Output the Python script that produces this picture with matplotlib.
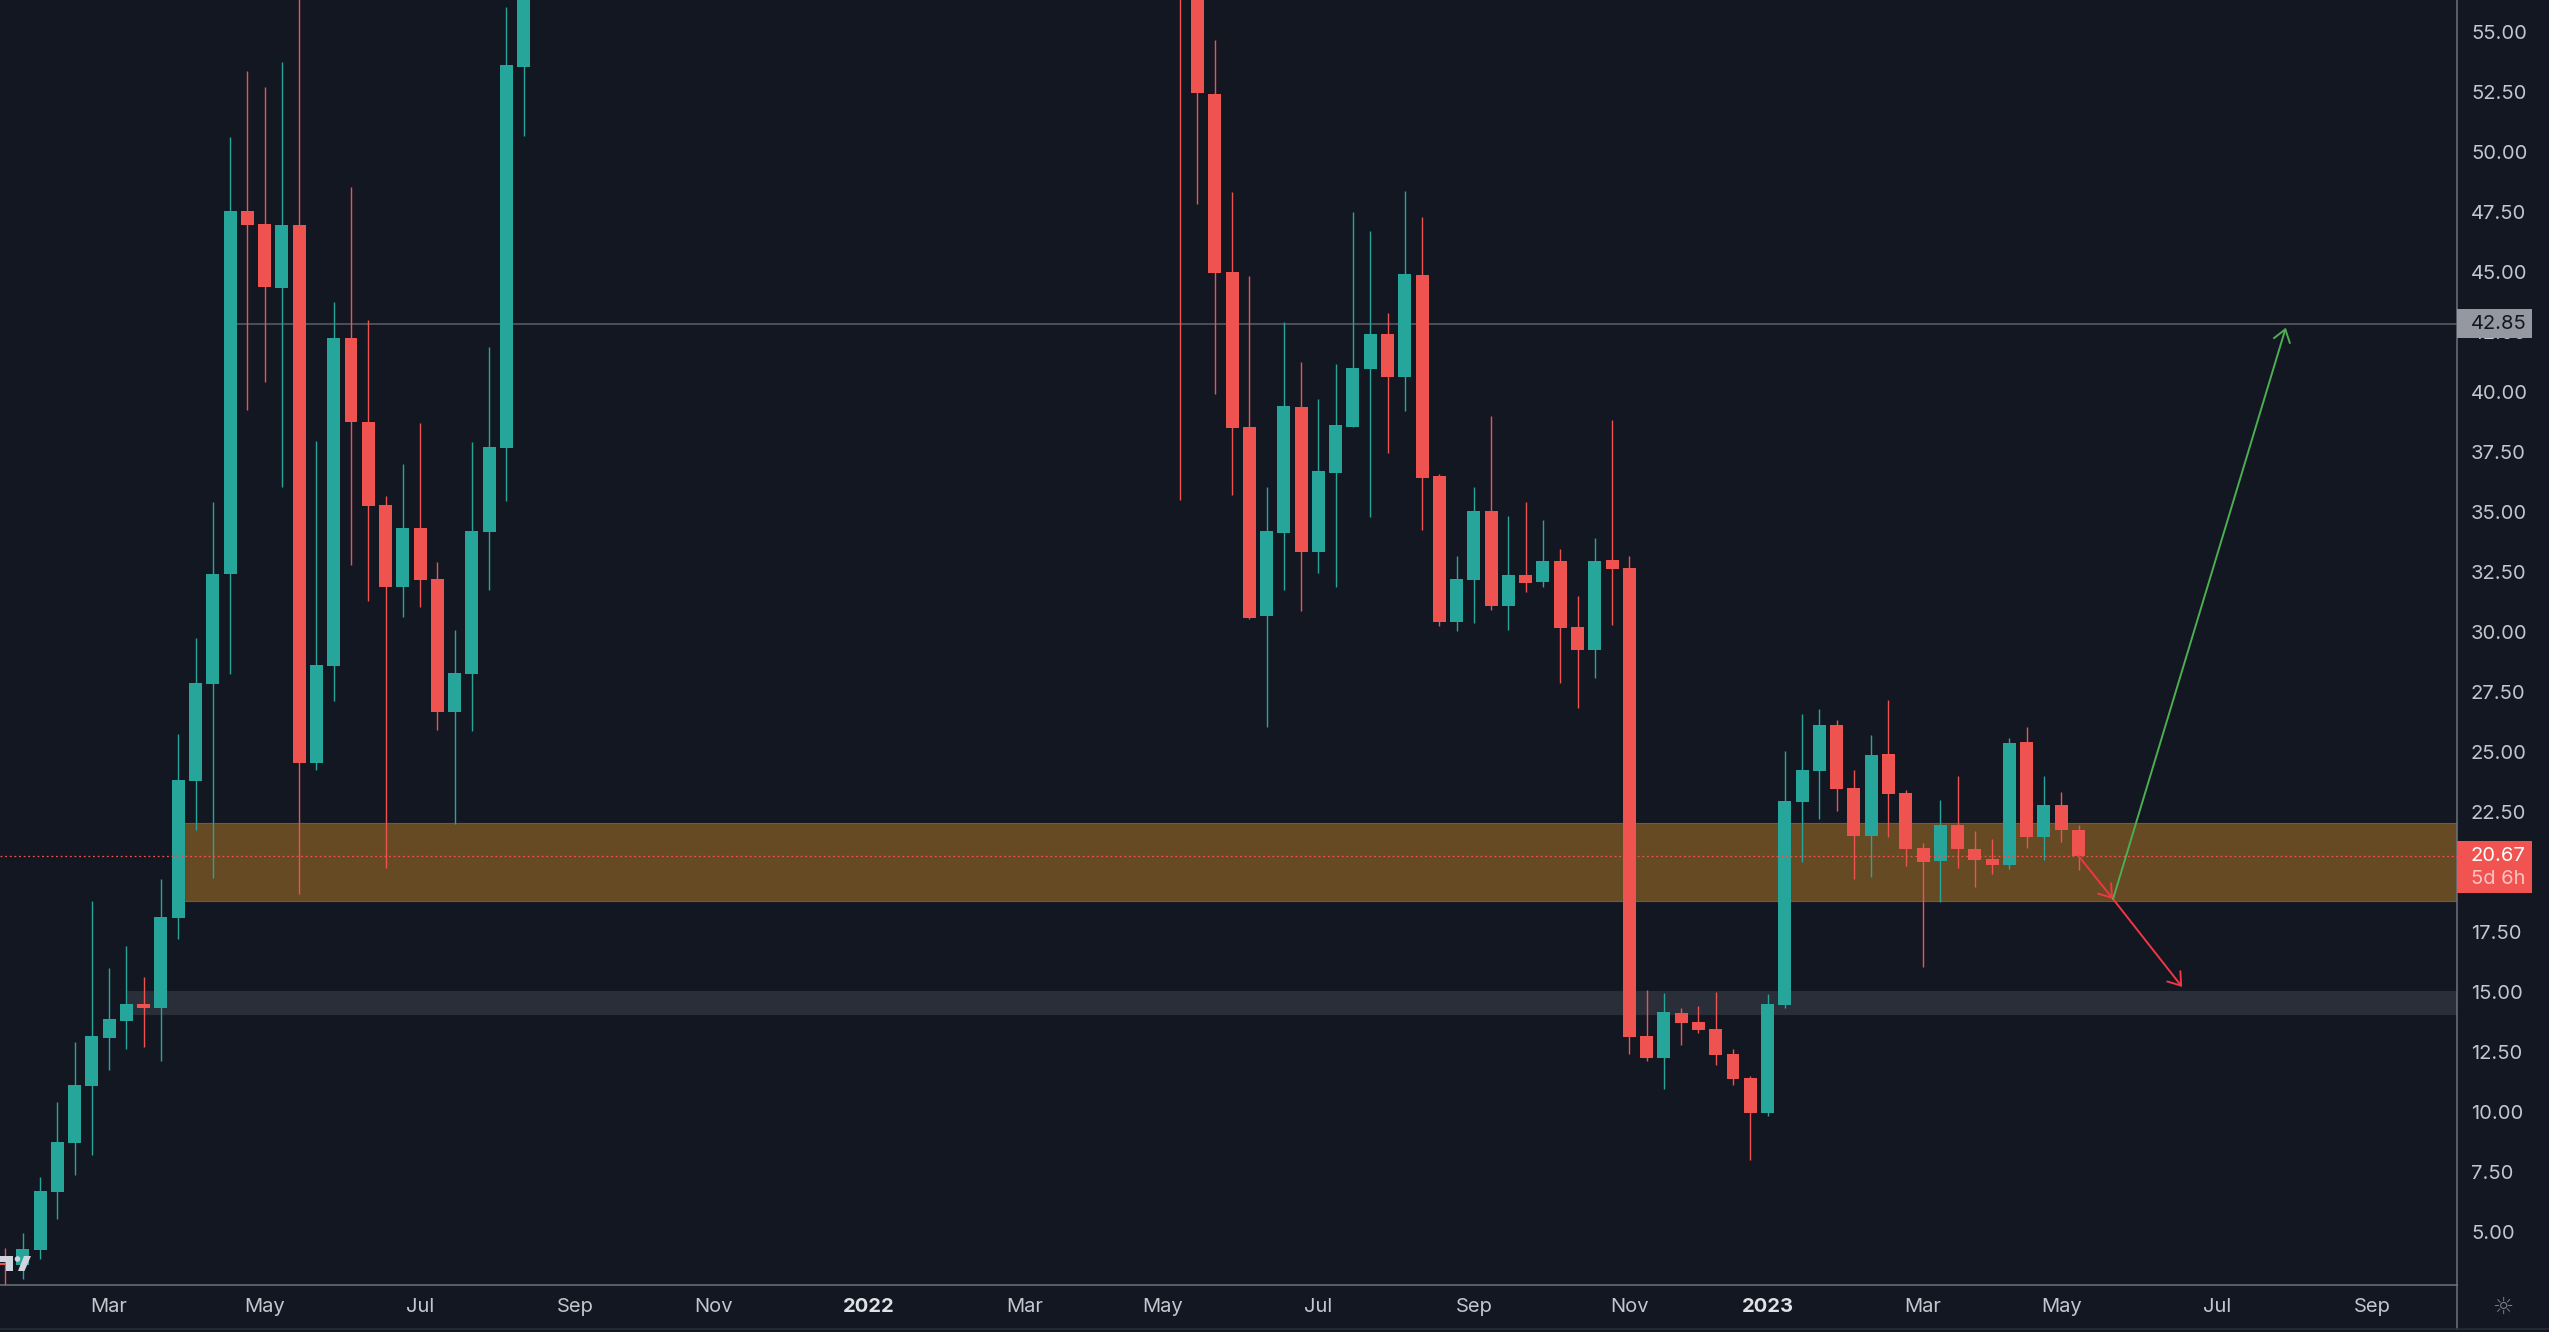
import matplotlib
matplotlib.use("Agg")
import matplotlib.pyplot as plt
from matplotlib.lines import Line2D
from matplotlib.patches import Circle, Polygon, Rectangle
from matplotlib.transforms import IdentityTransform

W, H = 2549, 1332
BG = "#131722"
UP = "#26a69a"
DOWN = "#ef5350"
AXIS = "#6f727b"
TEXT = "#c3c6ce"

plt.rcParams["font.family"] = ["Inter", "DejaVu Sans"]

# weekly bars, the weeks 31-67 run off the top of the pane and are left out
bar_index = list(range(0, 31)) + list(range(68, 121))

opens = [3.71, 3.63, 4.25, 6.67, 8.71, 11.08, 13.08, 13.79, 14.5, 14.33, 18.08, 23.79, 27.83, 32.42, 47.54, 47.0,
         44.33, 46.96, 24.54, 28.58, 42.25, 38.75, 35.29, 31.88, 34.33, 32.21, 26.67, 28.25, 34.17, 37.67, 53.54,
         62.0, 58.0, 52.42, 45.0, 38.54, 30.67, 34.13, 39.38, 33.33, 36.63, 38.54, 40.96, 42.42, 40.63, 44.88, 36.5,
         30.42, 32.17, 35.04, 31.08, 32.38, 32.08, 32.96, 30.21, 29.25, 33.0, 32.67, 13.17, 12.25, 14.13, 13.75,
         13.46, 12.42, 11.42, 9.96, 14.46, 22.92, 24.21, 26.13, 23.5, 21.5, 24.92, 23.29, 21.0, 20.46, 21.96, 20.96,
         20.54, 20.29, 25.42, 21.46, 22.79, 21.75]
highs = [4.33, 4.96, 7.29, 10.42, 12.92, 18.79, 16.0, 16.92, 15.62, 19.71, 25.75, 29.75, 35.42, 50.62, 53.37, 52.71,
         53.75, 57.5, 37.96, 43.75, 48.54, 43.0, 35.67, 37.0, 38.71, 32.92, 30.08, 37.92, 41.88, 56.04, 62.0,
         65.0, 60.0, 54.67, 48.33, 44.83, 36.04, 42.92, 41.25, 39.71, 41.17, 47.5, 46.71, 43.29, 48.38, 47.29, 36.58,
         33.17, 36.04, 39.0, 34.83, 35.42, 34.67, 33.46, 31.5, 33.92, 38.83, 33.17, 15.08, 14.96, 14.33, 14.42,
         15.0, 12.63, 11.5, 14.92, 25.04, 26.58, 26.79, 26.33, 24.25, 25.71, 27.17, 23.42, 21.21, 23.0, 24.0, 21.71,
         21.38, 25.58, 26.04, 24.0, 23.33, 21.96]
lows = [2.5, 3.06, 3.87, 5.54, 7.37, 8.21, 11.75, 12.62, 12.71, 12.12, 17.21, 21.75, 19.75, 28.25, 39.27, 40.42,
        36.04, 19.08, 24.25, 27.13, 32.79, 31.29, 20.17, 30.63, 31.04, 25.92, 22.0, 25.88, 31.75, 35.46, 50.67,
        35.5, 47.83, 39.92, 35.71, 30.54, 26.04, 31.75, 30.88, 32.46, 31.88, 38.54, 34.79, 37.46, 39.21, 34.25, 30.25,
        30.04, 30.38, 30.92, 30.08, 31.67, 31.88, 27.88, 26.83, 28.08, 30.29, 12.42, 12.12, 10.96, 12.79, 13.29,
        11.96, 11.13, 8.0, 9.83, 14.33, 20.42, 22.21, 22.54, 19.71, 19.79, 21.46, 20.25, 16.04, 18.75, 20.17, 19.38,
        19.92, 20.13, 21.0, 20.5, 21.25, 20.08]
closes = [3.63, 4.29, 6.71, 8.75, 11.13, 13.17, 13.87, 14.5, 14.33, 18.12, 23.83, 27.87, 32.42, 47.54, 46.96, 44.37,
          46.96, 24.54, 28.63, 42.25, 38.75, 35.25, 31.88, 34.33, 32.17, 26.67, 28.29, 34.21, 37.71, 53.63, 60.0,
          58.0, 52.46, 44.96, 38.5, 30.58, 34.21, 39.42, 33.33, 36.71, 38.63, 41.0, 42.42, 40.63, 44.92, 36.42, 30.42,
          32.21, 35.04, 31.08, 32.38, 32.04, 32.96, 30.17, 29.25, 32.96, 32.63, 13.13, 12.25, 14.17, 13.71, 13.42,
          12.38, 11.38, 9.96, 14.5, 22.96, 24.25, 26.13, 23.46, 21.5, 24.88, 23.25, 20.96, 20.42, 21.96, 20.96, 20.5,
          20.29, 25.38, 21.46, 22.79, 21.75, 20.67]

y_ticks = [5, 7.5, 10, 12.5, 15, 17.5, 20, 22.5, 25, 27.5, 30, 32.5, 35, 37.5, 40, 42.5, 45, 47.5, 50, 52.5, 55]
x_tick_pos = [6, 15, 24, 33, 41, 50, 59, 67, 76, 85, 94, 102, 111, 119, 128, 137]
x_tick_labels = ["Mar", "May", "Jul", "Sep", "Nov", "2022", "Mar", "May", "Jul", "Sep", "Nov", "2023", "Mar", "May",
                 "Jul", "Sep"]

last_price = 20.67
level_price = 42.85
level_start = 13

orange_zone = (10, 18.8, 22.04)
grey_zone = (7, 14.07, 15.04)

# hand drawn arrows on the chart: from bar, from price, to bar, to price
arrow_red_in = (120, 20.67, 122, 18.875)
arrow_red_out = (122, 18.875, 126, 15.21)
arrow_green = (122, 18.875, 132, 42.68)

fig = plt.figure(figsize=(W / 100, H / 100), dpi=100, facecolor=BG)
pane_r, pane_b = 2457, 1285
ax = fig.add_axes([0, (H - pane_b) / H, pane_r / W, pane_b / H], facecolor=BG)

# one bar is 17.275 px wide, price is 24 px per unit
ax.set_xlim(-5.5 / 17.275, (pane_r - 5.5) / 17.275)
ax.set_ylim(55 - (pane_b - 32) / 24, 55 + 32 / 24)
xmax = ax.get_xlim()[1]

for start, low, top, face, edge in [orange_zone + ("#664a24", "#7a5a2b"), grey_zone + ("#2a2e39", "#2a2e39")]:
    ax.add_patch(Rectangle((start, low), xmax + 5 - start, top - low, facecolor=face, edgecolor=edge, lw=0.8, zorder=1))

ax.hlines(level_price, level_start, xmax, color="#5d606b", lw=1.1, zorder=1.5)

colors = [UP if c >= o else DOWN for o, c in zip(opens, closes)]
ax.vlines(bar_index, lows, highs, colors=colors, lw=1.0, zorder=2)
ax.bar(bar_index, [c - o for o, c in zip(opens, closes)], bottom=opens, width=0.7525, color=colors, lw=0, zorder=3)

ax.hlines(last_price, ax.get_xlim()[0], xmax, color=DOWN, lw=0.9, linestyles=(0, (1.5, 2.2)), zorder=4)

for arrow, color in [(arrow_red_in, "#f23645"), (arrow_red_out, "#f23645"), (arrow_green, "#4caf50")]:
    ax.annotate("", xy=arrow[2:], xytext=arrow[:2], zorder=5,
                arrowprops=dict(arrowstyle="->,head_length=8.5,head_width=6", mutation_scale=1, color=color, lw=1.4,
                                shrinkA=0, shrinkB=0))

# axes and labels
for side in ["top", "left"]:
    ax.spines[side].set_visible(False)
for side in ["right", "bottom"]:
    ax.spines[side].set_color(AXIS)
    ax.spines[side].set_linewidth(1.1)

ax.yaxis.tick_right()
ax.set_yticks(y_ticks)
ax.set_yticklabels([f"{v:.2f}" for v in y_ticks])
ax.set_xticks(x_tick_pos)
ax.set_xticklabels(x_tick_labels)
ax.tick_params(axis="y", length=0, pad=10, labelsize=14.5, labelcolor=TEXT)
ax.tick_params(axis="x", length=0, pad=9, labelsize=14.5, labelcolor=TEXT)
for lab in ax.get_xticklabels():
    if lab.get_text() in ("2022", "2023"):
        lab.set_fontweight("bold")
        lab.set_color("#dfe1e6")


def price_y(price):
    return ax.transData.transform((0, price))[1]


def pane_text(x, y, s, color, size=14.5):
    fig.add_artist(plt.Text(x, y, s, color=color, fontsize=size, va="center", ha="left",
                            transform=IdentityTransform(), zorder=11))


# price boxes on the scale, drawn on the figure so they sit over the tick labels
y_level = price_y(level_price)
fig.add_artist(Rectangle((pane_r, y_level - 14.5), 75, 29, facecolor="#9598a1", lw=0,
                         transform=IdentityTransform(), zorder=10))
pane_text(2471, y_level, "42.85", BG)

y_last = price_y(last_price)
fig.add_artist(Rectangle((pane_r, y_last - 37), 75, 52, facecolor="#f05350", lw=0,
                         transform=IdentityTransform(), zorder=10))
pane_text(2471, y_last, "20.67", "white")
pane_text(2471, y_last - 23, "5d 6h", "#fbc4c2")

# frame lines under the scales
fig.add_artist(Line2D([pane_r, pane_r], [H - 1329, H - pane_b], color=AXIS, lw=1.1, transform=IdentityTransform()))
fig.add_artist(Line2D([0, W], [H - 1329, H - 1329], color="#2a2e39", lw=1.1, transform=IdentityTransform()))

# logo cut by the left edge
logo = "#d1d4dc"
fig.add_artist(Polygon([(0, H - 1256), (13, H - 1256), (13, H - 1271), (6, H - 1271), (6, H - 1262), (0, H - 1262)],
                       facecolor=logo, lw=0, transform=IdentityTransform(), zorder=10))
fig.add_artist(Polygon([(24, H - 1256), (31, H - 1256), (24.5, H - 1271), (18, H - 1271)],
                       facecolor=logo, lw=0, transform=IdentityTransform(), zorder=10))
fig.add_artist(Circle((17.5, H - 1259), 2.8, facecolor=logo, lw=0, transform=IdentityTransform(), zorder=10))

fig.text(2503 / W, (H - 1307) / H, "\u263c", color="#787b86", fontsize=17, ha="center", va="center",
         family="DejaVu Sans")

fig.savefig("out.png", dpi=100, facecolor=BG)
